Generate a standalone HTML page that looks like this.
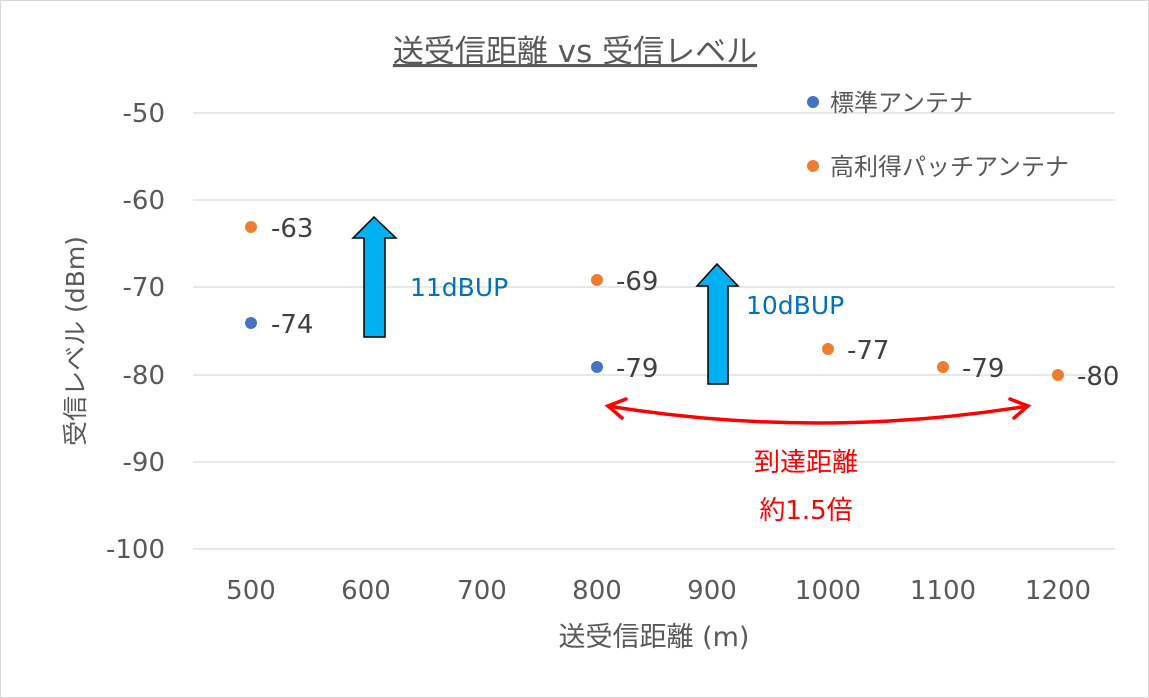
<!DOCTYPE html>
<html><head><meta charset="utf-8"><style>
html,body{margin:0;padding:0;background:#fff}
svg{display:block;font-family:"DejaVu Sans","Noto Sans CJK JP",sans-serif}
</style></head><body>
<svg width="1149" height="698" viewBox="0 0 1149 698">
<rect x="0.5" y="0.5" width="1148" height="697" fill="#fff" stroke="#d9d9d9"/>
<text x="575" y="62" font-size="31" fill="#595959" text-anchor="middle" text-decoration="underline">送受信距離 vs 受信レベル</text>
<g stroke="#d9d9d9" stroke-width="1.3">
<line x1="193" y1="113" x2="1115" y2="113"/>
<line x1="193" y1="200" x2="1115" y2="200"/>
<line x1="193" y1="287" x2="1115" y2="287"/>
<line x1="193" y1="375" x2="1115" y2="375"/>
<line x1="193" y1="462" x2="1115" y2="462"/>
<line x1="193" y1="549" x2="1115" y2="549"/>
</g>
<g font-size="26" fill="#595959" text-anchor="end">
<text x="165" y="122">-50</text><text x="165" y="209">-60</text><text x="165" y="296">-70</text>
<text x="165" y="384">-80</text><text x="165" y="471">-90</text><text x="165" y="558">-100</text>
</g>
<g font-size="26" fill="#595959" text-anchor="middle">
<text x="251" y="599">500</text><text x="366" y="599">600</text><text x="482" y="599">700</text>
<text x="597" y="599">800</text><text x="712" y="599">900</text><text x="828" y="599">1000</text>
<text x="943" y="599">1100</text><text x="1058" y="599">1200</text>
</g>
<text x="654" y="646" font-size="27" fill="#595959" text-anchor="middle">送受信距離 (m)</text>
<text transform="translate(84,341) rotate(-90)" font-size="25" fill="#595959" text-anchor="middle">受信レベル (dBm)</text>
<circle cx="813" cy="102" r="6" fill="#4472c4"/>
<text x="830" y="111" font-size="24" fill="#595959">標準アンテナ</text>
<circle cx="813" cy="166" r="6" fill="#ed7d31"/>
<text x="830" y="175" font-size="24" fill="#595959">高利得パッチアンテナ</text>
<circle cx="251" cy="227" r="6" fill="#ed7d31"/>
<circle cx="251" cy="323" r="6" fill="#4472c4"/>
<circle cx="597" cy="280" r="6" fill="#ed7d31"/>
<circle cx="597" cy="367" r="6" fill="#4472c4"/>
<circle cx="828" cy="349" r="6" fill="#ed7d31"/>
<circle cx="943" cy="367" r="6" fill="#ed7d31"/>
<circle cx="1058" cy="375" r="6" fill="#ed7d31"/>
<g font-size="26" fill="#404040">
<text x="271" y="237">-63</text><text x="271" y="333">-74</text>
<text x="616" y="290">-69</text><text x="616" y="377">-79</text>
<text x="847" y="359">-77</text><text x="962" y="377">-79</text><text x="1077" y="385">-80</text>
</g>
<path d="M374 217 L396 238 L385 238 L385 337 L364 337 L364 238 L353 238 Z" fill="#00b0f0" stroke="#000" stroke-width="1.5"/>
<path d="M717 264 L738 286 L728 286 L728 384 L708 384 L708 286 L697 286 Z" fill="#00b0f0" stroke="#000" stroke-width="1.5"/>
<text x="410" y="296" font-size="25" fill="#0070c0">11dBUP</text>
<text x="746" y="314" font-size="25" fill="#0070c0">10dBUP</text>
<g stroke="#ff0000" stroke-width="3.5" fill="none" stroke-linecap="round">
<path d="M608 406 Q818 440 1028 406"/>
<path d="M626 399 L608 406 L622 418"/>
<path d="M1010 399 L1028 406 L1014 418"/>
</g>
<text x="806" y="471" font-size="26" fill="#ff0000" text-anchor="middle">到達距離</text>
<text x="806" y="519" font-size="26" fill="#ff0000" text-anchor="middle">約1.5倍</text>
</svg>
</body></html>
